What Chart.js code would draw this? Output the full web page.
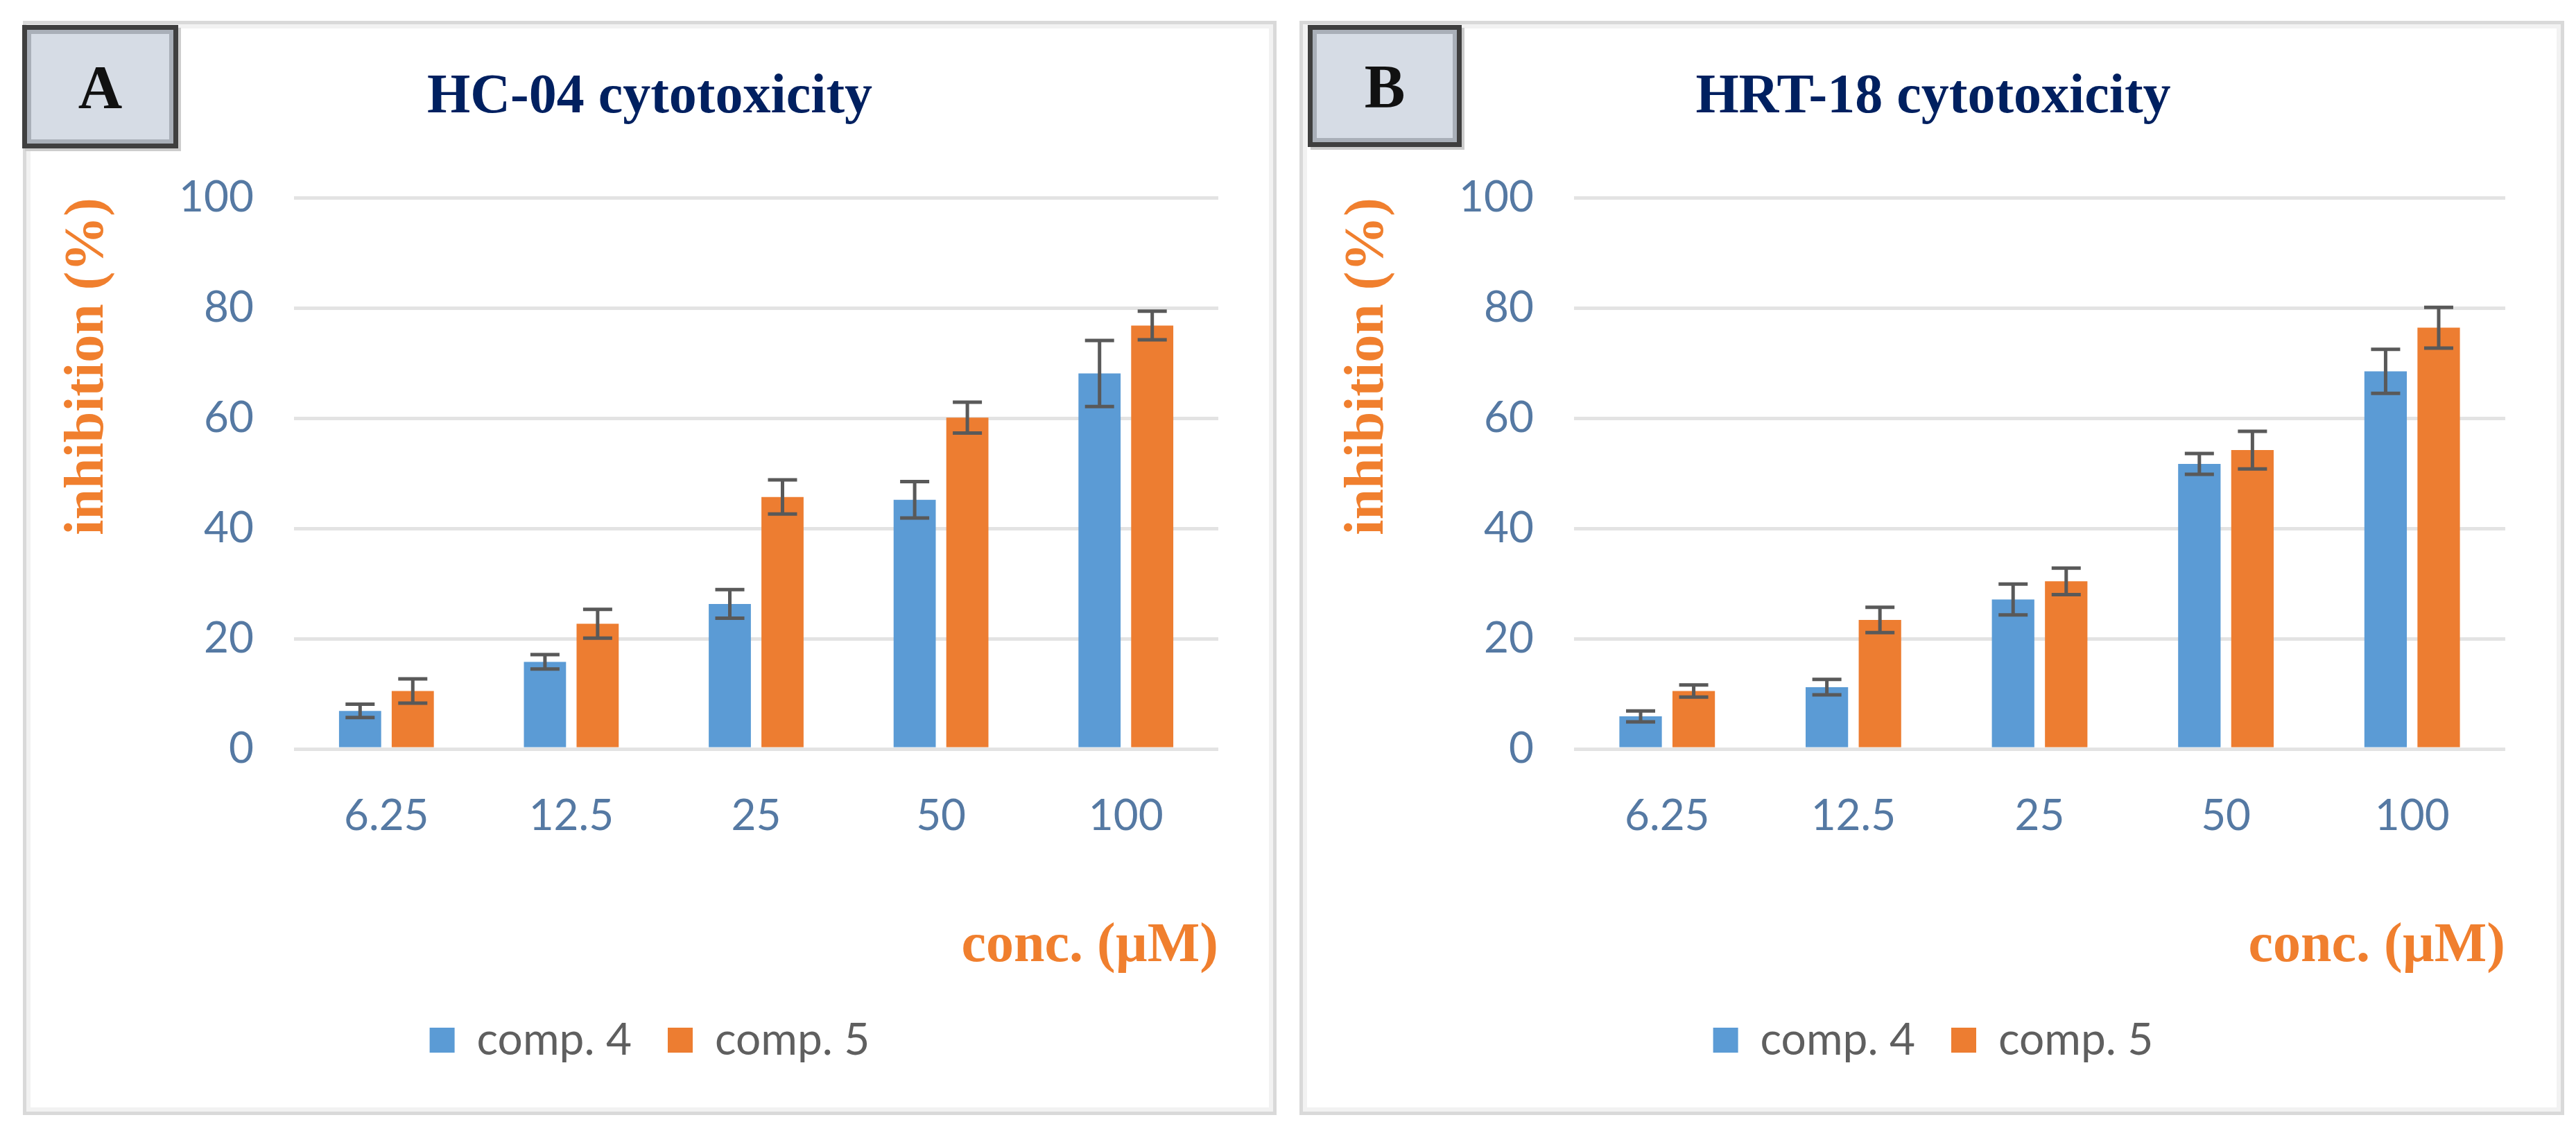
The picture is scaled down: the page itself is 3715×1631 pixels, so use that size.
<!DOCTYPE html>
<html>
<head>
<meta charset="utf-8">
<script src="https://cdn.jsdelivr.net/npm/chart.js@4.4.1/dist/chart.umd.min.js"></script>
<style>
    html, body {
        margin: 0;
        padding: 0;
        background: #fff;
    }
    body {
        width: 3715px;
        height: 1631px;
        position: relative;
        overflow: hidden;
    }
    .panel {
        position: absolute;
        box-sizing: border-box;
        border: 5px solid #d9d9d9;
        box-shadow: inset 0 0 0 6px #f2f2f2;
    }
    canvas {
        position: absolute;
    }
    .tag {
        position: absolute;
        box-sizing: border-box;
        background: #d6dce5;
        border: 7px solid #3f3f3f;
        box-shadow: inset 0 0 0 6px #a9afb8, 4px 4px 0 #cccccc;
        display: flex;
        align-items: center;
        justify-content: center;
        font-family: "Liberation Serif", serif;
        font-weight: bold;
        font-size: 88px;
        color: #111;
    }
</style>
</head>
<body>
<div class="panel" style="left:33px; top:30px; width:1808px; height:1578px;"></div>
<div class="panel" style="left:1874px; top:30px; width:1824px; height:1578px;"></div>

<canvas id="chartA" width="1806" height="1574" style="left:34px; top:33px; width:1806px; height:1574px;"></canvas>
<canvas id="chartB" width="1816" height="1574" style="left:1880px; top:33px; width:1816px; height:1574px;"></canvas>

<div class="tag" style="left:32px; top:36px; width:225px; height:178px;">A</div>
<div class="tag" style="left:1886px; top:36px; width:222px; height:176px;">B</div>

<script>
const concentrations = ['6.25', '12.5', '25', '50', '100'];
const yTicks = [0, 20, 40, 60, 80, 100];
const seriesNames = ['comp. 4', 'comp. 5'];

// HC-04 cells
const hc04Comp4 = [6.9, 15.8, 26.3, 45.2, 68.1];
const hc04Comp4Err = [1.2, 1.3, 2.6, 3.3, 6.0];
const hc04Comp5 = [10.5, 22.7, 45.7, 60.1, 76.8];
const hc04Comp5Err = [2.2, 2.6, 3.1, 2.8, 2.6];

// HRT-18 cells
const hrt18Comp4 = [5.9, 11.2, 27.1, 51.7, 68.5];
const hrt18Comp4Err = [1.0, 1.4, 2.8, 1.9, 4.0];
const hrt18Comp5 = [10.5, 23.4, 30.4, 54.2, 76.4];
const hrt18Comp5Err = [1.1, 2.3, 2.4, 3.4, 3.7];

const BLUE = '#5b9bd5';
const ORANGE = '#ed7d31';
const TICK_COLOR = '#5579a3';
const AXIS_TITLE_COLOR = '#f07f2e';
const SERIF = '"Liberation Serif", "Times New Roman", serif';
const SANS = 'Lato, "Open Sans", sans-serif';

const errorBars = {
    id: 'errorBars',
    afterDatasetsDraw(chart) {
        const ctx = chart.ctx;
        const y = chart.scales.y;
        ctx.save();
        ctx.strokeStyle = '#595959';
        ctx.lineWidth = 5;
        chart.data.datasets.forEach((ds, i) => {
            const meta = chart.getDatasetMeta(i);
            meta.data.forEach((bar, j) => {
                const top = y.getPixelForValue(ds.data[j] + ds.errors[j]);
                const bottom = y.getPixelForValue(ds.data[j] - ds.errors[j]);
                ctx.beginPath();
                ctx.moveTo(bar.x, top);
                ctx.lineTo(bar.x, bottom);
                ctx.moveTo(bar.x - 21, top);
                ctx.lineTo(bar.x + 21, top);
                ctx.moveTo(bar.x - 21, bottom);
                ctx.lineTo(bar.x + 21, bottom);
                ctx.stroke();
            });
        });
        ctx.restore();
    }
};

function makeChart(id, title, comp4, comp4Err, comp5, comp5Err) {
    const ctx = document.getElementById(id).getContext('2d');
    return new Chart(ctx, {
        type: 'bar',
        data: {
            labels: concentrations,
            datasets: [{
                label: seriesNames[0],
                data: comp4,
                errors: comp4Err,
                backgroundColor: BLUE
            }, {
                label: seriesNames[1],
                data: comp5,
                errors: comp5Err,
                backgroundColor: ORANGE
            }]
        },
        options: {
            responsive: false,
            devicePixelRatio: 1,
            animation: false,
            layout: {
                padding: { top: 0, left: 0, right: 0, bottom: 65 }
            },
            datasets: {
                bar: {
                    categoryPercentage: 0.57,
                    barPercentage: 0.8
                }
            },
            plugins: {
                title: {
                    display: true,
                    text: title,
                    color: '#002060',
                    font: { family: SERIF, size: 80, weight: 'bold', lineHeight: 1.2 },
                    padding: { top: 60, bottom: 96 }
                },
                legend: {
                    position: 'bottom',
                    labels: {
                        boxWidth: 36,
                        boxHeight: 36,
                        padding: 52,
                        color: '#5f5f5f',
                        font: { family: SANS, size: 64 }
                    }
                },
                tooltip: { enabled: false }
            },
            scales: {
                x: {
                    grid: { display: false },
                    border: { display: false },
                    ticks: {
                        color: TICK_COLOR,
                        padding: 52,
                        font: { family: SANS, size: 62 }
                    },
                    title: {
                        display: true,
                        text: 'conc. (µM)',
                        align: 'end',
                        color: AXIS_TITLE_COLOR,
                        font: { family: SERIF, size: 80, weight: 'bold', lineHeight: 1.2 },
                        padding: { top: 0, bottom: 3 }
                    },
                    afterFit: scale => { scale.height = 336; }
                },
                y: {
                    min: 0,
                    max: 100,
                    grid: { color: '#e3e3e3', lineWidth: 5, drawTicks: false },
                    border: { display: false },
                    ticks: {
                        color: TICK_COLOR,
                        padding: 58,
                        font: { family: SANS, size: 62 }
                    },
                    afterBuildTicks: scale => {
                        scale.ticks = yTicks.map(v => ({ value: v }));
                    },
                    title: {
                        display: true,
                        text: 'inhibition (%)',
                        align: 'end',
                        color: AXIS_TITLE_COLOR,
                        font: { family: SERIF, size: 80, weight: 'bold', lineHeight: 1.2 },
                        padding: { top: 45, bottom: 0 }
                    },
                    afterFit: scale => { scale.width = 390; }
                },
                spacer: {
                    position: 'right',
                    display: true,
                    grid: { display: false },
                    border: { display: false },
                    ticks: { display: false },
                    afterFit: scale => { scale.width = 83; }
                }
            }
        },
        plugins: [errorBars]
    });
}

makeChart('chartA', 'HC-04 cytotoxicity', hc04Comp4, hc04Comp4Err, hc04Comp5, hc04Comp5Err);
makeChart('chartB', 'HRT-18 cytotoxicity', hrt18Comp4, hrt18Comp4Err, hrt18Comp5, hrt18Comp5Err);
</script>
</body>
</html>
